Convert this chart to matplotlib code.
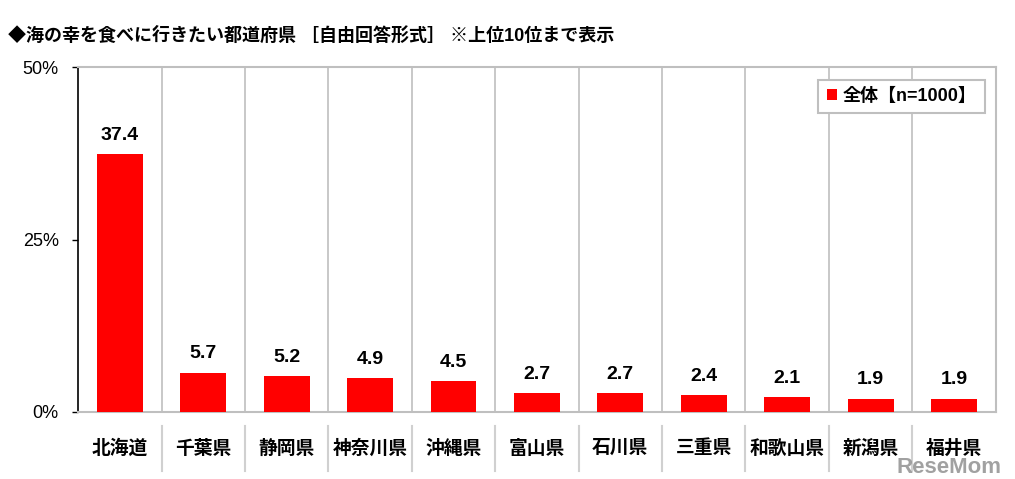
import matplotlib
matplotlib.use("Agg")
import matplotlib.pyplot as plt
import numpy as np

plt.rcParams['font.family'] = ['Liberation Sans', 'Noto Sans CJK JP', 'DejaVu Sans']

prefs = ['北海道', '千葉県', '静岡県', '神奈川県', '沖縄県', '富山県',
         '石川県', '三重県', '和歌山県', '新潟県', '福井県']
values = [37.4, 5.7, 5.2, 4.9, 4.5, 2.7, 2.7, 2.4, 2.1, 1.9, 1.9]
yticks = [0, 25, 50]
title = '◆海の幸を食べに行きたい都道府県 ［自由回答形式］ ※上位10位まで表示'
legend_label = '全体【n=1000】'

fig = plt.figure(figsize=(10.15, 4.79), dpi=100)
ax = fig.add_axes([0.077, 0.14, 0.904, 0.72])

x = np.arange(len(prefs))
ax.bar(x, values, width=0.55, color='#ff0000', label=legend_label, zorder=3)

for xi, v in zip(x, values):
    ax.text(xi, v + 1.5, f'{v:.1f}', ha='center', va='bottom',
            fontsize=14, fontweight='bold')

ax.set_xlim(-0.5, len(prefs) - 0.5)
ax.set_ylim(0, 50)
ax.set_yticks(yticks)
ax.set_yticklabels([f'{t}%' for t in yticks], fontsize=13)
ax.tick_params(axis='y', length=4, width=1, pad=10)

# separators between categories
for b in np.arange(0.5, len(prefs) - 0.5, 1):
    ax.axvline(b, color='#bfbfbf', lw=1.2, zorder=1)
    ax.plot([b, b], [-0.04, -0.17], transform=ax.get_xaxis_transform(),
            color='#d0d0d0', lw=1.5, clip_on=False)

ax.set_xticks(x)
ax.set_xticklabels(prefs, fontsize=13.5, fontweight='bold')
ax.tick_params(axis='x', length=0, pad=20)

for s in ['top', 'right', 'bottom']:
    ax.spines[s].set_color('#bfbfbf')
    ax.spines[s].set_linewidth(1.5)
ax.spines['left'].set_color('black')
ax.spines['left'].set_linewidth(1.2)

leg = ax.legend(loc='upper right', bbox_to_anchor=(0.998, 0.99),
                fontsize=13, handlelength=0.55, handleheight=0.55,
                handletextpad=0.35, borderpad=0.45, fancybox=False,
                framealpha=1)
leg.get_frame().set_edgecolor('#bfbfbf')
leg.get_frame().set_linewidth(1.5)
for t in leg.get_texts():
    t.set_fontweight('bold')

fig.text(0.008, 0.915, title, fontsize=13, fontweight='bold')
fig.text(0.987, 0.012, 'ReseMom', fontsize=16, fontweight='bold',
         color='#7a7a7a', alpha=0.7, ha='right')

fig.savefig('out.png', dpi=100)
